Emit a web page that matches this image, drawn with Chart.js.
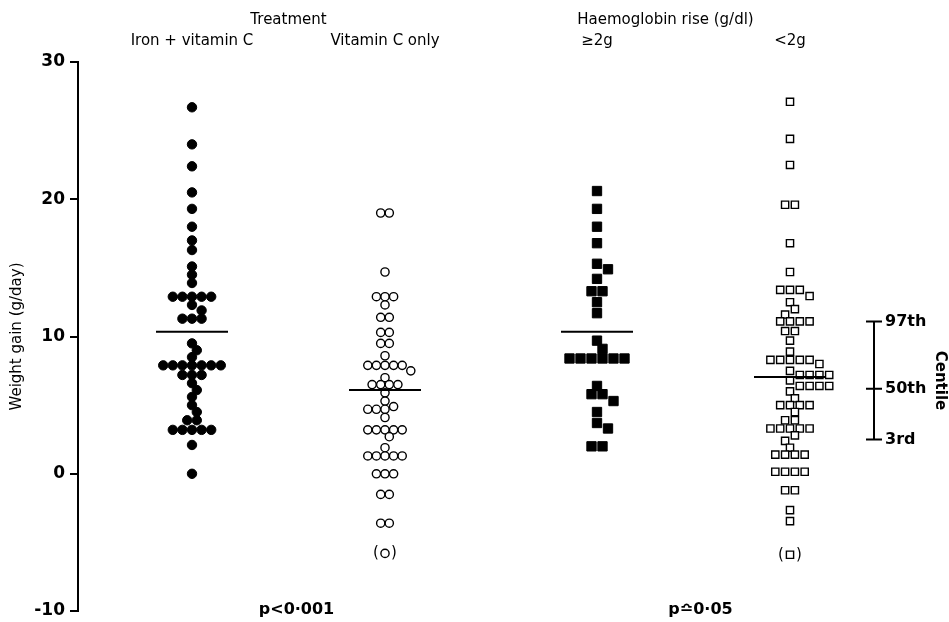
<!DOCTYPE html>
<html>
<head>
<meta charset="utf-8">
<script src="https://cdn.jsdelivr.net/npm/chart.js@4.4.1/dist/chart.umd.min.js"></script>
<style>
    html, body { margin: 0; padding: 0; background: #fff; }
</style>
</head>
<body>
<canvas id="weightChart" width="949" height="622"></canvas>
<script>
// weight gain (g/day) of each infant
var ironVitC = [26.7, 24.0, 22.4, 20.5, 19.3, 18.0, 17.0, 16.3, 15.1, 14.5, 13.9,
    12.9, 12.9, 12.9, 12.9, 12.9, 12.3, 11.9, 11.3, 11.3, 11.3,
    9.5, 9.0, 8.5, 7.9, 7.9, 7.9, 7.9, 7.9, 7.9, 7.9, 7.2, 7.2, 7.2,
    6.6, 6.1, 5.6, 5.0, 4.5, 3.9, 3.9, 3.2, 3.2, 3.2, 3.2, 3.2, 2.1, 0];
var vitCOnly = [19.0, 19.0, 14.7, 12.9, 12.9, 12.9, 12.3, 11.4, 11.4, 10.3, 10.3,
    9.5, 9.5, 8.6, 7.9, 7.9, 7.9, 7.9, 7.9, 7.5, 7.0, 6.5, 6.5, 6.5, 6.5,
    5.9, 5.3, 4.9, 4.7, 4.7, 4.7, 4.1, 3.2, 3.2, 3.2, 3.2, 3.2, 2.7, 1.9,
    1.3, 1.3, 1.3, 1.3, 1.3, 0, 0, 0, -1.5, -1.5, -3.6, -3.6];
var hbRiseHigh = [20.6, 19.3, 18.0, 16.8, 15.3, 14.9, 14.2, 13.3, 13.3, 12.5, 11.7,
    9.7, 9.1, 8.4, 8.4, 8.4, 8.4, 8.4, 8.4, 6.4, 5.8, 5.8, 5.3, 4.5, 3.7, 3.3, 2.0, 2.0];
var hbRiseLow = [27.1, 24.4, 22.5, 19.6, 19.6, 16.8, 14.7, 13.4, 13.4, 13.4, 12.95, 12.5, 12.0, 11.6,
    11.1, 11.1, 11.1, 11.1, 10.4, 10.4, 9.7, 8.9, 8.3, 8.3, 8.3, 8.3, 8.3, 8.0, 7.5,
    7.2, 7.2, 7.2, 7.2, 6.8, 6.4, 6.4, 6.4, 6.4, 6.0, 5.5, 5.0, 5.0, 5.0, 5.0, 4.5, 3.9, 3.9,
    3.3, 3.3, 3.3, 3.3, 3.3, 2.8, 2.4, 1.9, 1.4, 1.4, 1.4, 1.4, 0.15, 0.15, 0.15, 0.15,
    -1.2, -1.2, -2.65, -3.45];

var groupMeans = [10.35, 6.1, 10.35, 7.05];
var bracketed = [null, -5.8, null, -5.9];          // points shown in brackets
var groupLabels = ["Iron + vitamin C", "Vitamin C only", "\u22652g", "<2g"];
var headers = ["Treatment", "Haemoglobin rise (g/dl)"];
var pValues = ["p<0\u00b7001", "p\u224f0\u00b705"];
var centileValues = [11.1, 6.2, 2.5];
var centileLabels = ["97th", "50th", "3rd"];

// layout: x scale runs in page pixels
var colCenters = [192, 385, 597, 790];
var groups = [ironVitC, vitCOnly, hbRiseHigh, hbRiseLow];
var markers = [
    { style: "circle", r: 4.7, fill: "#000", bw: 1,   gap: 9.6 },
    { style: "circle", r: 4.1, fill: "#fff", bw: 1.4, gap: 8.6 },
    { style: "rect",   r: 6.6, fill: "#000", bw: 1,   gap: 11 },
    { style: "rect",   r: 5.1, fill: "#fff", bw: 1.4, gap: 9.8 }
];
var FONT = "DejaVu Sans";
Chart.defaults.font.family = FONT;
Chart.defaults.color = "#000";

// simple beeswarm: equal values sit in a centred row, the rest slide sideways
function swarm(values, col, gap, chart) {
    var xs = chart.scales.x, ys = chart.scales.y;
    var cx = xs.getPixelForValue(colCenters[col]);
    var rows = [];
    values.slice().sort(function (a, b) { return b - a; }).forEach(function (v) {
        var last = rows[rows.length - 1];
        if (last && last.v === v) last.n++; else rows.push({ v: v, n: 1 });
    });
    var placed = [], out = [];
    rows.forEach(function (row) {
        var py = ys.getPixelForValue(row.v);
        for (var k = 0; k < 60; k++) {
            var c = (k % 2 ? 1 : -1) * Math.ceil(k / 2) * gap / 2;
            var cand = [];
            for (var i = 0; i < row.n; i++) cand.push(cx + c + (i - (row.n - 1) / 2) * gap);
            var ok = cand.every(function (x) {
                return placed.every(function (p) {
                    return Math.hypot(p.x - x, p.y - py) >= gap * 0.84;
                });
            });
            if (ok) {
                cand.forEach(function (x) {
                    placed.push({ x: x, y: py });
                    out.push({ x: xs.getValueForPixel(x), y: row.v });
                });
                break;
            }
        }
    });
    return out;
}

var datasets = [];
groupMeans.forEach(function (m, i) {
    datasets.push({
        type: "line",
        data: [{ x: colCenters[i] - 36, y: m }, { x: colCenters[i] + 36, y: m }],
        borderColor: "#000",
        borderWidth: 2,
        pointRadius: 0,
        order: 0
    });
});
groups.forEach(function (vals, i) {
    var mk = markers[i];
    var pts = vals.map(function (v) { return { x: colCenters[i], y: v }; });
    if (bracketed[i] !== null) pts.push({ x: colCenters[i], y: bracketed[i] });
    datasets.push({
        type: "scatter",
        data: pts,
        pointStyle: mk.style,
        pointRadius: mk.r,
        pointBackgroundColor: mk.fill,
        pointBorderColor: "#000",
        pointBorderWidth: mk.bw,
        order: 1
    });
});

var overlay = {
    id: "overlay",
    afterDraw: function (chart) {
        var ctx = chart.ctx, xs = chart.scales.x, ys = chart.scales.y;
        var px = function (i) { return xs.getPixelForValue(colCenters[i]); };
        ctx.save();
        ctx.fillStyle = "#000";
        ctx.strokeStyle = "#000";
        ctx.textAlign = "center";
        ctx.textBaseline = "middle";
        ctx.font = "15px '" + FONT + "'";
        ctx.fillText(headers[0], (px(0) + px(1)) / 2, 20);
        ctx.fillText(headers[1], (px(2) + px(3)) / 2 - 28, 20);
        groupLabels.forEach(function (t, i) { ctx.fillText(t, px(i), 41); });

        bracketed.forEach(function (v, i) {
            if (v === null) return;
            var y = ys.getPixelForValue(v);
            ctx.fillText("(", px(i) - 9, y);
            ctx.fillText(")", px(i) + 9, y);
        });

        ctx.font = "bold 16px '" + FONT + "'";
        ctx.fillText(pValues[0], (px(0) + px(1)) / 2 + 8, 610);
        ctx.fillText(pValues[1], (px(2) + px(3)) / 2 + 7, 610);

        // centile bracket on the right
        var bx = 874;
        var top = ys.getPixelForValue(centileValues[0]);
        var bot = ys.getPixelForValue(centileValues[centileValues.length - 1]);
        ctx.lineWidth = 2;
        ctx.beginPath();
        ctx.moveTo(bx, top);
        ctx.lineTo(bx, bot);
        centileValues.forEach(function (v) {
            var y = ys.getPixelForValue(v);
            ctx.moveTo(bx - 8, y);
            ctx.lineTo(bx + 8, y);
        });
        ctx.stroke();
        ctx.textAlign = "left";
        centileValues.forEach(function (v, i) {
            ctx.fillText(centileLabels[i], bx + 11, ys.getPixelForValue(v));
        });
        ctx.font = "bold 15px '" + FONT + "'";
        ctx.translate(940, (top + bot) / 2);
        ctx.rotate(Math.PI / 2);
        ctx.textAlign = "center";
        ctx.fillText("Centile", 0, 0);
        ctx.restore();
    }
};

var chart = new Chart(document.getElementById("weightChart").getContext("2d"), {
    type: "scatter",
    data: { datasets: datasets },
    options: {
        responsive: false,
        animation: false,
        layout: { padding: { top: 62, bottom: 6, left: 0, right: 71 } },
        plugins: { legend: { display: false }, tooltip: { enabled: false } },
        scales: {
            x: { type: "linear", display: false, min: 78, max: 878 },
            y: {
                min: -10,
                max: 30,
                afterFit: function (scale) { scale.width = 78; },
                ticks: {
                    stepSize: 10,
                    padding: 5,
                    color: "#000",
                    font: { size: 17, weight: "bold", lineHeight: 0.7 }
                },
                grid: {
                    drawOnChartArea: false,
                    drawTicks: true,
                    tickLength: 8,
                    color: "#000",
                    lineWidth: 2
                },
                border: { display: true, color: "#000", width: 2 },
                title: {
                    display: true,
                    text: "Weight gain (g/day)",
                    color: "#000",
                    font: { size: 15 },
                    padding: { top: 8, bottom: 0 }
                }
            }
        }
    },
    plugins: [overlay]
});

// second pass: spread the dots now that the scales exist
groups.forEach(function (vals, i) {
    var ds = chart.data.datasets[groupMeans.length + i];
    var pts = swarm(vals, i, markers[i].gap, chart);
    if (bracketed[i] !== null) pts.push({ x: colCenters[i], y: bracketed[i] });
    ds.data = pts;
});
chart.update("none");
</script>
</body>
</html>
